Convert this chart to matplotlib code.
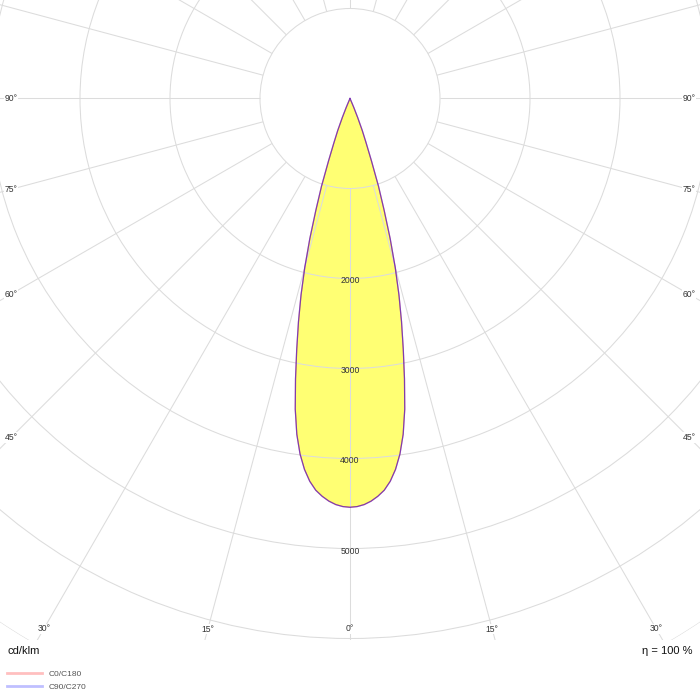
import numpy as np
import matplotlib
matplotlib.use("Agg")
import matplotlib.pyplot as plt
from matplotlib.lines import Line2D
from matplotlib.transforms import ScaledTranslation

plt.rcParams['font.family'] = ['Liberation Sans', 'DejaVu Sans']

# ---- data (cd/klm) ----
gamma_deg = [0, 1, 2, 3, 4, 5, 6, 7, 8, 9, 10, 11, 12, 13, 14, 15, 16, 17, 18, 19,
             20, 21, 22, 23, 24, 25, 30, 45, 60, 75, 90, 180]
c0_c180 = [4542, 4535, 4515, 4480, 4431, 4369, 4277, 4152, 3989, 3778, 3504, 3173,
           2847, 2545, 2249, 1940, 1620, 1296, 1024, 730, 520, 380, 230, 110, 30, 0,
           0, 0, 0, 0, 0, 0]
c90_c270 = [4542, 4535, 4515, 4480, 4431, 4369, 4277, 4152, 3989, 3778, 3504, 3173,
            2847, 2545, 2249, 1940, 1620, 1296, 1024, 730, 520, 380, 230, 110, 30, 0,
            0, 0, 0, 0, 0, 0]
ring_values = [1000, 2000, 3000, 4000, 5000, 6000, 7000]
ring_labels = [2000, 3000, 4000, 5000]
spoke_deg = list(range(-180, 180, 15))
angle_label_deg = [0, 15, 30, 45, 60, 75, 90]
series_names = ["C0/C180", "C90/C270"]
unit_text = "cd/klm"
eta_text = "η = 100 %"

# ---- layout (pixels) ----
W = H = 700
dpi = 100
cx, cy = 350, 98.5
px_per_unit = 0.09
rmax = 7000
R = rmax * px_per_unit

fig = plt.figure(figsize=(W / dpi, H / dpi), dpi=dpi)
fig.patch.set_facecolor('white')
ax = fig.add_axes([(cx - R) / W, (H - cy - R) / H, 2 * R / W, 2 * R / H], projection='polar')
ax.set_theta_zero_location('S')
ax.set_theta_direction(1)
ax.set_ylim(0, rmax)
ax.set_facecolor('white')
ax.spines['polar'].set_visible(False)

grid_col = '#dcdcdc'
ax.set_yticks(ring_values)
ax.set_yticklabels([])
ax.set_xticks([])
ax.xaxis.grid(False)
ax.yaxis.grid(True, color=grid_col, lw=0.75)
ax.tick_params(length=0)

th = np.deg2rad(spoke_deg)
ax.vlines(th, ring_values[0], rmax, colors=grid_col, lw=0.75, zorder=1.6)

def full_curve(vals):
    g = np.deg2rad(np.array(gamma_deg))
    v = np.array(vals, dtype=float)
    theta = np.concatenate([-g[::-1], g[1:]])
    r = np.concatenate([v[::-1], v[1:]])
    return theta, r

t0, r0 = full_curve(c0_c180)
t9, r9 = full_curve(c90_c270)
ax.fill(t0, r0, color='#ffff00', alpha=0.55, lw=0, zorder=1)
ax.plot(t0, r0, color='#ff0000', alpha=0.5, lw=0.9, zorder=3)
ax.plot(t9, r9, color='#0000ff', alpha=0.5, lw=0.9, zorder=3)

# radial labels
off = ScaledTranslation(0, -2.5 / dpi, fig.dpi_scale_trans)
for v in ring_labels:
    ax.text(0, v, str(v), transform=ax.transData + off, ha='center', va='center',
            fontsize=6.2, color='#333333', zorder=4)

# angle labels at frame edge
x_in = 339.0
y_in = 629 - cy
for a in angle_label_deg:
    ar = np.deg2rad(a)
    cands = []
    if np.sin(ar) > 1e-6:
        cands.append(x_in / np.sin(ar))
    if np.cos(ar) > 1e-6:
        cands.append(y_in / np.cos(ar))
    rr = min(cands) / px_per_unit
    for s in ([1, -1] if a != 0 else [1]):
        ax.text(s * ar, rr, f"{a}°", ha='center', va='center', fontsize=6.2,
                color='#333333', zorder=5,
                bbox=dict(facecolor='white', edgecolor='none', pad=0.6))

# bottom white panel clipping the chart
ax2 = fig.add_axes([0, 0, 1, 60 / H])
ax2.set_zorder(ax.get_zorder() + 1)
ax2.set_facecolor('white')
ax2.set_xticks([]); ax2.set_yticks([])
for sp in ax2.spines.values():
    sp.set_visible(False)

fig.text(7 / W, 1 - 651.5 / H, unit_text, ha='left', va='center', fontsize=8, color='#111111', zorder=10)
fig.text(692 / W, 1 - 651.5 / H, eta_text, ha='right', va='center', fontsize=8, color='#111111', zorder=10)

handles = [Line2D([], [], color='#ff0000', alpha=0.25, lw=2),
           Line2D([], [], color='#0000ff', alpha=0.25, lw=2)]
leg = fig.legend(handles, series_names, loc='upper left', bbox_to_anchor=(7 / W, 1 - 670.5 / H),
                 bbox_transform=fig.transFigure, frameon=False, fontsize=6,
                 handlelength=4.2, handletextpad=0.8, labelspacing=0.58,
                 borderpad=0, borderaxespad=0)
for t in leg.get_texts():
    t.set_color('#555555')
leg.set_zorder(10)

fig.savefig('out.png', dpi=dpi, facecolor='white')
